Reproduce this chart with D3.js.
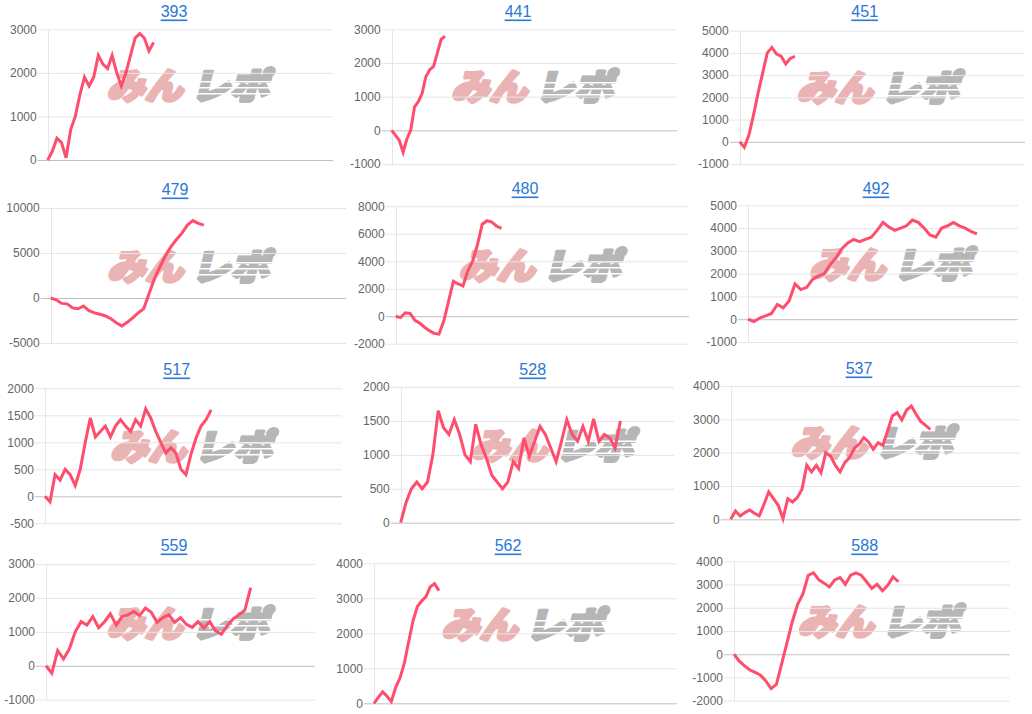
<!DOCTYPE html>
<html><head><meta charset="utf-8">
<script src="https://cdn.jsdelivr.net/npm/d3@7"></script>
<style>body{margin:0;background:#fff;} svg{display:block}</style>
</head><body>
<svg id="c" width="1032" height="714"></svg>
<script>
// ---- data ----
const chartIds = ["393","441","451","479","480","492","517","528","537","559","562","588"];

const values393 = [0,200,500,400,50,700,1000,1500,1900,1700,1900,2400,2200,2100,2400,2000,1700,2000,2400,2800,2900,2800,2500,2700];
const values441 = [0,-150,-300,-650,-250,0,700,850,1100,1600,1800,1900,2300,2700,2800];
const values451 = [0,-250,300,1200,2200,3100,4000,4250,3950,3850,3500,3750,3850];
const values479 = [0,-200,-600,-650,-1100,-1200,-900,-1400,-1650,-1800,-2000,-2300,-2750,-3100,-2700,-2200,-1650,-1200,500,2200,3500,4700,5700,6500,7200,8100,8600,8300,8100];
const values480 = [0,-100,250,200,-300,-500,-800,-1050,-1250,-1300,-350,1100,2550,2350,2200,3300,4000,5200,6700,6950,6850,6550,6400];
const values492 = [0,-100,50,150,250,650,500,800,1550,1300,1400,1750,1900,2000,2400,2700,3100,3350,3500,3400,3500,3600,3900,4250,4050,3900,4000,4100,4350,4250,4000,3700,3600,4000,4100,4250,4100,4000,3850,3750];
const values517 = [0,-100,400,300,500,400,200,500,1000,1450,1100,1200,1300,1100,1300,1420,1300,1200,1420,1300,1620,1450,1200,1000,800,900,800,500,400,780,1080,1300,1420,1600];
const values528 = [0,300,500,600,500,600,1000,1650,1400,1300,1520,1300,1000,900,1450,1150,950,700,600,500,600,900,800,1250,980,1200,1420,1300,1100,900,1200,1520,1300,1200,1420,1200,1530,1200,1300,1250,1100,1500];
const values537 = [0,250,100,200,280,180,100,450,820,620,420,20,620,520,650,900,1620,1420,1620,1400,2000,1900,1620,1420,1700,1850,2130,2250,2450,2320,2100,2300,2220,2650,3100,3200,2980,3280,3400,3150,2930,2820,2700];
const values559 = [0,-220,450,200,500,1000,1300,1200,1450,1120,1300,1530,1200,1450,1500,1600,1480,1700,1580,1280,1420,1500,1280,1420,1220,1130,1300,1120,1300,1030,930,1180,1380,1500,1640,2300];
const values562 = [0,170,330,200,50,450,720,1150,1750,2350,2760,2920,3050,3330,3420,3220];
const values588 = [0,-300,-500,-680,-780,-900,-1150,-1480,-1300,-400,500,1400,2150,2600,3400,3500,3200,3060,2900,3200,3300,3010,3400,3500,3400,3120,2830,3010,2730,2970,3330,3120];

// number of x slots on each chart's horizontal axis
const slotCounts = [62,75,62,54,61,46,59,51,61,46,70,52];

// y tick labels
const ticks393 = [0,1000,2000,3000];
const ticks441 = [-1000,0,1000,2000,3000];
const ticks451 = [-1000,0,1000,2000,3000,4000,5000];
const ticks479 = [-5000,0,5000,10000];
const ticks480 = [-2000,0,2000,4000,6000,8000];
const ticks492 = [-1000,0,1000,2000,3000,4000,5000];
const ticks517 = [-500,0,500,1000,1500,2000];
const ticks528 = [0,500,1000,1500,2000];
const ticks537 = [0,1000,2000,3000,4000];
const ticks559 = [-1000,0,1000,2000,3000];
const ticks562 = [0,1000,2000,3000,4000];
const ticks588 = [-2000,-1000,0,1000,2000,3000,4000];

const seriesList = [values393,values441,values451,values479,values480,values492,values517,values528,values537,values559,values562,values588];
const tickList = [ticks393,ticks441,ticks451,ticks479,ticks480,ticks492,ticks517,ticks528,ticks537,ticks559,ticks562,ticks588];

// ---- layout (pixel geometry of each panel) ----
const panels = [
  {x0:47.7, x1:333,   yTop:29.3,  yBot:160,   tx:174,   ty:11,  wx:191,   wy:86},
  {x0:391.7,x1:677,   yTop:29.3,  yBot:164,   tx:518,   ty:11,  wx:535.5, wy:87},
  {x0:739.7,x1:1025,  yTop:30.7,  yBot:164,   tx:864.7, ty:11,  wx:881,   wy:88},
  {x0:50.7, x1:346,   yTop:208,   yBot:343,   tx:175,   ty:189, wx:191.5, wy:267},
  {x0:395.7,x1:689,   yTop:206.3, yBot:343.7, tx:525,   ty:188, wx:543,   wy:266},
  {x0:748,  x1:1018,  yTop:205.3, yBot:342,   tx:876,   ty:188, wx:893.5, wy:264.7},
  {x0:45,   x1:342,   yTop:388.3, yBot:523.3, tx:176.7, ty:369, wx:194.5, wy:447},
  {x0:400.7,x1:674,   yTop:387,   yBot:522.7, tx:532.7, ty:369, wx:555.5, wy:445.5},
  {x0:730.7,x1:1020.7,yTop:386,   yBot:519.3, tx:859,   ty:368, wx:875,   wy:442.7},
  {x0:46,   x1:315,   yTop:564,   yBot:699.7, tx:174,   ty:545, wx:191,   wy:624},
  {x0:374,  x1:677,   yTop:563.3, yBot:703.3, tx:508,   ty:545, wx:525.7, wy:625},
  {x0:734,  x1:1009.7,yTop:561.3, yBot:700.7, tx:864.7, ty:545, wx:882,   wy:621.7}
];

const svg = d3.select("#c");

function watermark(g, cx, cy) {
  const w = g.append("g").attr("transform", `translate(${cx},${cy})`);
  const t = w.append("g").attr("transform", "skewX(-14)");
  const parts = [
    {txt: "みん", x: -81, len: 76, col: "#ebb4b4"},
    {txt: "レポ", x: 3, len: 78, col: "#b6b6b6"}
  ];
  parts.forEach(p => {
    t.append("text")
      .attr("x", p.x).attr("y", 13)
      .attr("font-family", "'Noto Sans CJK JP', 'Noto Sans CJK SC', sans-serif").attr("font-weight", 900)
      .attr("font-size", 36).attr("fill", p.col)
      .attr("stroke", p.col).attr("stroke-width", 3.2).attr("stroke-linejoin", "round")
      .attr("textLength", p.len).attr("lengthAdjust", "spacingAndGlyphs")
      .text(p.txt);
  });
  [-5, 1, 7].forEach(dy => {
    t.append("rect").attr("x", 4).attr("y", dy).attr("width", 80).attr("height", 1.6).attr("fill", "#fff");
  });
}

chartIds.forEach((id, k) => {
  const L = panels[k], vals = seriesList[k], ticks = tickList[k];
  const x = d3.scaleLinear().domain([0, slotCounts[k]]).range([L.x0, L.x1]);
  const y = d3.scaleLinear().domain(d3.extent(ticks)).range([L.yBot, L.yTop]);
  const g = svg.append("g");

  watermark(g, L.wx, L.wy);

  const ax = g.append("g")
    .attr("transform", `translate(${L.x0},0)`)
    .call(d3.axisLeft(y).tickValues(ticks).tickSize(-(L.x1 - L.x0)).tickPadding(11).tickFormat(d => String(d)));
  ax.select(".domain").remove();
  ax.selectAll(".tick line")
    .attr("x1", -10)
    .attr("stroke", d => d === 0 ? "#c0c0c0" : "#e6e6e6");
  ax.selectAll(".tick text")
    .attr("fill", "#666").attr("font-size", 12)
    .attr("font-family", "'Liberation Sans', Arial, sans-serif");
  g.append("line")
    .attr("x1", Math.round(L.x0) + 0.5).attr("x2", Math.round(L.x0) + 0.5)
    .attr("y1", y(d3.max(ticks))).attr("y2", y(d3.min(ticks)))
    .attr("stroke", "#e6e6e6");

  g.append("path")
    .datum(vals)
    .attr("fill", "none")
    .attr("stroke", "#ff4d6d")
    .attr("stroke-width", 3)
    .attr("stroke-linejoin", "miter")
    .attr("d", d3.line().x((d, i) => x(i)).y(d => y(d)));

  g.append("text")
    .attr("x", L.tx).attr("y", L.ty)
    .attr("text-anchor", "middle").attr("dominant-baseline", "central")
    .attr("font-family", "'Liberation Sans', Arial, sans-serif")
    .attr("font-size", 16).attr("fill", "#2a77d4")
    .attr("text-decoration", "underline")
    .text(id);
});
</script>
</body></html>
